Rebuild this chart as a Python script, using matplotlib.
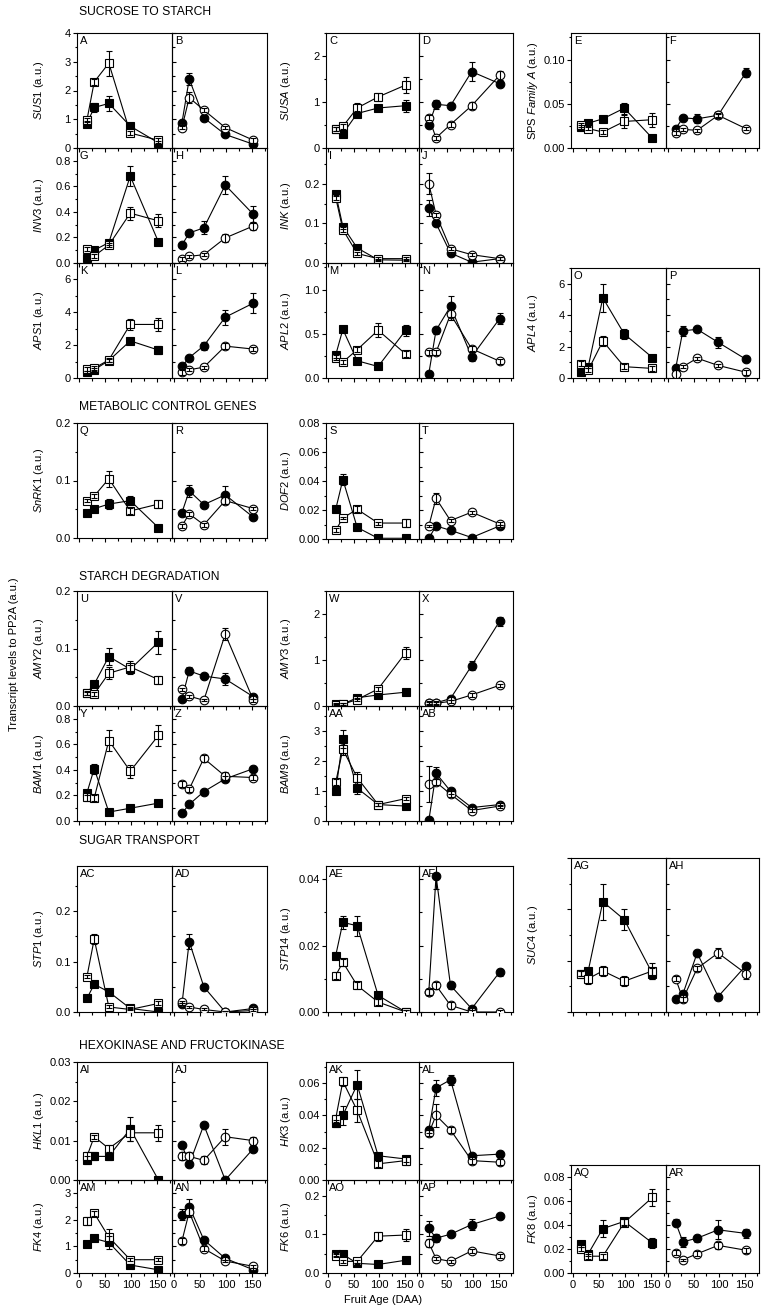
import matplotlib
matplotlib.use('Agg')
import matplotlib.pyplot as plt
from matplotlib.ticker import MultipleLocator, FormatStrFormatter

plt.rcParams['font.family'] = ['Liberation Sans', 'DejaVu Sans']
plt.rcParams['mathtext.fontset'] = 'custom'
plt.rcParams['mathtext.it'] = 'Liberation Sans:italic'
plt.rcParams['mathtext.rm'] = 'Liberation Sans'

W, H = 766, 1308

daa = [15, 29, 57, 98, 152]

# per gene: filled square, open square, filled circle, open circle
sus1 = [[0.85, 1.41, 1.55, 0.76, 0.18], [0.97, 2.3, 2.95, 0.52, 0.27],
        [0.87, 2.4, 1.05, 0.47, 0.13], [0.71, 1.75, 1.32, 0.71, 0.27]]
sus1_err = [[0.08, 0.15, 0.27, 0.06, 0.05], [0.08, 0.1, 0.44, 0.06, 0.08],
            [0.08, 0.22, 0.08, 0.06, 0.04], [0.06, 0.2, 0.06, 0.06, 0.08]]

susa = [[0.42, 0.31, 0.75, 0.87, 0.92], [0.42, 0.47, 0.87, 1.11, 1.37],
        [0.5, 0.95, 0.92, 1.66, 1.4], [0.66, 0.22, 0.51, 0.92, 1.58]]
susa_err = [[0.04, 0.04, 0.05, 0.05, 0.13], [0.04, 0.05, 0.1, 0.08, 0.17],
            [0.05, 0.1, 0.05, 0.2, 0.06], [0.05, 0.05, 0.05, 0.07, 0.1]]

sps = [[0.024, 0.028, 0.033, 0.045, 0.011], [0.026, 0.022, 0.018, 0.03, 0.032],
       [0.022, 0.034, 0.033, 0.037, 0.085], [0.017, 0.021, 0.02, 0.037, 0.022]]
sps_err = [[0.002, 0.003, 0.002, 0.006, 0.003], [0.002, 0.002, 0.002, 0.007, 0.008],
           [0.003, 0.003, 0.005, 0.002, 0.005], [0.002, 0.002, 0.002, 0.003, 0.002]]

inv3 = [[0.04, 0.1, 0.16, 0.68, 0.165], [0.107, 0.055, 0.14, 0.39, 0.33],
        [0.14, 0.235, 0.275, 0.61, 0.38], [0.034, 0.052, 0.065, 0.196, 0.29]]
inv3_err = [[0.01, 0.01, 0.02, 0.08, 0.01], [0.015, 0.015, 0.015, 0.05, 0.05],
            [0.01, 0.01, 0.05, 0.07, 0.07], [0.015, 0.01, 0.01, 0.03, 0.03]]

ink = [[0.175, 0.092, 0.038, 0.008, 0.007], [0.165, 0.084, 0.024, 0.011, 0.011],
       [0.139, 0.1, 0.025, 0.002, 0.011], [0.2, 0.122, 0.036, 0.021, 0.011]]
ink_err = [[0.006, 0.005, 0.004, 0.003, 0.003], [0.006, 0.006, 0.004, 0.004, 0.004],
           [0.02, 0.005, 0.003, 0.002, 0.003], [0.027, 0.005, 0.004, 0.004, 0.004]]

aps1 = [[0.34, 0.5, 1.06, 2.26, 1.7], [0.54, 0.6, 1.1, 3.26, 3.26],
        [0.7, 1.24, 1.96, 3.7, 4.56], [0.36, 0.5, 0.66, 1.94, 1.76]]
aps1_err = [[0.1, 0.1, 0.1, 0.15, 0.25], [0.1, 0.1, 0.1, 0.35, 0.4],
            [0.15, 0.1, 0.25, 0.45, 0.62], [0.15, 0.1, 0.1, 0.2, 0.1]]

apl2 = [[0.26, 0.55, 0.195, 0.13, 0.54], [0.23, 0.18, 0.32, 0.54, 0.27],
        [0.05, 0.54, 0.81, 0.24, 0.67], [0.29, 0.29, 0.72, 0.33, 0.19]]
apl2_err = [[0.03, 0.03, 0.03, 0.03, 0.06], [0.03, 0.02, 0.03, 0.08, 0.03],
            [0.02, 0.04, 0.12, 0.05, 0.06], [0.03, 0.03, 0.06, 0.03, 0.03]]

apl4 = [[0.37, 0.72, 5.1, 2.8, 1.3], [0.91, 0.5, 2.35, 0.72, 0.61],
        [0.63, 3.0, 3.1, 2.27, 1.2], [0.28, 0.72, 1.26, 0.8, 0.37]]
apl4_err = [[0.1, 0.1, 0.9, 0.3, 0.1], [0.15, 0.15, 0.3, 0.15, 0.15],
            [0.1, 0.3, 0.1, 0.35, 0.1], [0.25, 0.1, 0.1, 0.1, 0.15]]

snrk1 = [[0.044, 0.051, 0.059, 0.065, 0.018], [0.065, 0.073, 0.103, 0.047, 0.059],
         [0.044, 0.082, 0.058, 0.075, 0.036], [0.021, 0.042, 0.023, 0.065, 0.051]]
snrk1_err = [[0.003, 0.003, 0.008, 0.008, 0.002], [0.003, 0.003, 0.014, 0.005, 0.007],
             [0.003, 0.01, 0.003, 0.016, 0.004], [0.003, 0.003, 0.003, 0.006, 0.003]]

dof2 = [[0.0205, 0.041, 0.008, 0.0005, 0.0005], [0.006, 0.0145, 0.0205, 0.011, 0.011],
        [0.0005, 0.009, 0.006, 0.001, 0.009], [0.009, 0.028, 0.0127, 0.0185, 0.0104]]
dof2_err = [[0.001, 0.004, 0.001, 0.0005, 0.0005], [0.0015, 0.001, 0.002, 0.001, 0.003],
            [0.0005, 0.001, 0.001, 0.0005, 0.001], [0.001, 0.004, 0.001, 0.001, 0.001]]

amy2 = [[0.023, 0.038, 0.086, 0.064, 0.111], [0.022, 0.021, 0.057, 0.068, 0.046],
        [0.013, 0.061, 0.052, 0.047, 0.016], [0.029, 0.017, 0.01, 0.125, 0.01]]
amy2_err = [[0.003, 0.003, 0.015, 0.008, 0.02], [0.003, 0.003, 0.01, 0.01, 0.007],
            [0.002, 0.006, 0.003, 0.01, 0.003], [0.003, 0.003, 0.002, 0.01, 0.003]]

amy3 = [[0.04, 0.04, 0.18, 0.24, 0.3], [0.03, 0.04, 0.14, 0.37, 1.16],
        [0.07, 0.07, 0.16, 0.88, 1.84], [0.06, 0.06, 0.1, 0.24, 0.45]]
amy3_err = [[0.02, 0.02, 0.03, 0.03, 0.03], [0.02, 0.02, 0.03, 0.04, 0.13],
            [0.02, 0.02, 0.03, 0.1, 0.1], [0.04, 0.04, 0.04, 0.04, 0.03]]

bam1 = [[0.22, 0.41, 0.07, 0.1, 0.14], [0.19, 0.18, 0.63, 0.39, 0.67],
        [0.06, 0.13, 0.23, 0.33, 0.41], [0.29, 0.25, 0.49, 0.35, 0.34]]
bam1_err = [[0.02, 0.04, 0.01, 0.01, 0.01], [0.03, 0.02, 0.08, 0.05, 0.08],
            [0.01, 0.01, 0.01, 0.02, 0.02], [0.02, 0.02, 0.03, 0.03, 0.02]]

bam9 = [[1.0, 2.75, 1.1, 0.55, 0.5], [1.3, 2.4, 1.45, 0.55, 0.75],
        [0.02, 1.6, 1.0, 0.45, 0.55], [1.25, 1.3, 0.9, 0.35, 0.5]]
bam9_err = [[0.05, 0.3, 0.2, 0.05, 0.05], [0.1, 0.2, 0.2, 0.05, 0.05],
            [0.02, 0.2, 0.1, 0.05, 0.05], [0.6, 0.1, 0.1, 0.05, 0.05]]

stp1 = [[0.027, 0.055, 0.04, 0.007, 0.0], [0.07, 0.145, 0.01, 0.005, 0.017],
        [0.015, 0.14, 0.05, 0.0, 0.007], [0.02, 0.01, 0.005, 0.0, 0.003]]
stp1_err = [[0.002, 0.003, 0.004, 0.002, 0.001], [0.003, 0.01, 0.003, 0.002, 0.004],
            [0.002, 0.015, 0.003, 0.001, 0.002], [0.002, 0.002, 0.002, 0.001, 0.002]]

stp14 = [[0.017, 0.027, 0.026, 0.005, 0.0], [0.011, 0.015, 0.008, 0.003, 0.0],
         [0.006, 0.041, 0.008, 0.001, 0.012], [0.006, 0.008, 0.002, 0.0, 0.0]]
stp14_err = [[0.001, 0.002, 0.003, 0.001, 0.0005], [0.001, 0.001, 0.001, 0.001, 0.0005],
             [0.001, 0.004, 0.001, 0.0005, 0.001], [0.001, 0.001, 0.001, 0.0005, 0.0005]]

suc4 = [[0.15, 0.16, 0.43, 0.36, 0.15], [0.15, 0.13, 0.16, 0.12, 0.16],
        [0.05, 0.07, 0.23, 0.06, 0.18], [0.13, 0.05, 0.17, 0.23, 0.15]]
suc4_err = [[0.01, 0.01, 0.07, 0.04, 0.02], [0.01, 0.02, 0.02, 0.02, 0.03],
            [0.01, 0.01, 0.01, 0.01, 0.01], [0.01, 0.01, 0.01, 0.02, 0.02]]

hkl1 = [[0.005, 0.006, 0.006, 0.013, 0.0], [0.006, 0.011, 0.008, 0.012, 0.012],
        [0.009, 0.004, 0.014, 0.0, 0.008], [0.006, 0.006, 0.005, 0.011, 0.01]]
hkl1_err = [[0.001, 0.001, 0.001, 0.003, 0.0005], [0.001, 0.0005, 0.001, 0.002, 0.002],
            [0.0005, 0.0005, 0.0005, 0.0005, 0.0005], [0.001, 0.001, 0.001, 0.002, 0.001]]

hk3 = [[0.035, 0.04, 0.059, 0.015, 0.013], [0.038, 0.061, 0.043, 0.01, 0.012],
       [0.031, 0.057, 0.062, 0.015, 0.016], [0.029, 0.04, 0.031, 0.012, 0.011]]
hk3_err = [[0.002, 0.006, 0.009, 0.002, 0.002], [0.002, 0.003, 0.007, 0.002, 0.003],
           [0.002, 0.005, 0.003, 0.002, 0.002], [0.002, 0.007, 0.002, 0.002, 0.002]]

fk4 = [[1.1, 1.3, 1.15, 0.3, 0.12], [1.95, 2.25, 1.35, 0.5, 0.5],
       [2.2, 2.5, 1.25, 0.55, 0.12], [1.2, 2.3, 0.92, 0.45, 0.25]]
fk4_err = [[0.05, 0.1, 0.25, 0.05, 0.05], [0.15, 0.1, 0.3, 0.05, 0.05],
           [0.2, 0.3, 0.1, 0.05, 0.05], [0.1, 0.2, 0.1, 0.05, 0.05]]

fk6 = [[0.048, 0.048, 0.025, 0.022, 0.033], [0.045, 0.03, 0.03, 0.095, 0.098],
       [0.115, 0.09, 0.1, 0.125, 0.147], [0.078, 0.037, 0.03, 0.057, 0.044]]
fk6_err = [[0.003, 0.003, 0.002, 0.002, 0.002], [0.003, 0.003, 0.003, 0.012, 0.015],
           [0.02, 0.01, 0.008, 0.015, 0.008], [0.01, 0.004, 0.003, 0.005, 0.004]]

fk8 = [[0.024, 0.016, 0.037, 0.043, 0.025], [0.02, 0.014, 0.014, 0.042, 0.063],
       [0.042, 0.026, 0.029, 0.036, 0.033], [0.017, 0.011, 0.016, 0.023, 0.019]]
fk8_err = [[0.002, 0.002, 0.007, 0.003, 0.004], [0.002, 0.002, 0.002, 0.003, 0.007],
           [0.003, 0.004, 0.003, 0.008, 0.004], [0.002, 0.001, 0.002, 0.003, 0.002]]

# column pixel edges (left, divider, right) and ylabel x
cols = [(77, 172, 267, 39), (326, 419, 513, 286), (571, 666, 759, 533)]

# name, values, errors, letters, column, top px, bottom px, ymax, major, minor, fmt
panels = [
    (r'$\it{SUS1}$ (a.u.)', sus1, sus1_err, ('A', 'B'), 0, 33, 148, 4, 1, 0.5, '%d'),
    (r'$\it{SUSA}$ (a.u.)', susa, susa_err, ('C', 'D'), 1, 33, 148, 2.5, 1, 0.5, '%d'),
    (r'SPS $\it{Family\ A}$ (a.u.)', sps, sps_err, ('E', 'F'), 2, 33, 148, 0.13, 0.05, 0.025, '%.2f'),
    (r'$\it{INV3}$ (a.u.)', inv3, inv3_err, ('G', 'H'), 0, 148, 263, 0.9, 0.2, 0.1, '%.1f'),
    (r'$\it{INK}$ (a.u.)', ink, ink_err, ('I', 'J'), 1, 148, 263, 0.29, 0.1, 0.05, '%.1f'),
    (r'$\it{APS1}$ (a.u.)', aps1, aps1_err, ('K', 'L'), 0, 263, 378, 7, 2, 1, '%d'),
    (r'$\it{APL2}$ (a.u.)', apl2, apl2_err, ('M', 'N'), 1, 263, 378, 1.3, 0.5, 0.25, '%.1f'),
    (r'$\it{APL4}$ (a.u.)', apl4, apl4_err, ('O', 'P'), 2, 268, 378, 7, 2, 1, '%d'),
    (r'$\it{SnRK1}$ (a.u.)', snrk1, snrk1_err, ('Q', 'R'), 0, 423, 538, 0.2, 0.1, 0.05, '%.1f'),
    (r'$\it{DOF2}$ (a.u.)', dof2, dof2_err, ('S', 'T'), 1, 423, 539, 0.08, 0.02, 0.01, '%.2f'),
    (r'$\it{AMY2}$ (a.u.)', amy2, amy2_err, ('U', 'V'), 0, 591, 706, 0.2, 0.1, 0.05, '%.1f'),
    (r'$\it{AMY3}$ (a.u.)', amy3, amy3_err, ('W', 'X'), 1, 591, 706, 2.5, 1, 0.5, '%d'),
    (r'$\it{BAM1}$ (a.u.)', bam1, bam1_err, ('Y', 'Z'), 0, 706, 821, 0.9, 0.2, 0.1, '%.1f'),
    (r'$\it{BAM9}$ (a.u.)', bam9, bam9_err, ('AA', 'AB'), 1, 706, 821, 3.85, 1, 0.5, '%d'),
    (r'$\it{STP1}$ (a.u.)', stp1, stp1_err, ('AC', 'AD'), 0, 866, 1012, 0.29, 0.1, 0.05, '%.1f'),
    (r'$\it{STP14}$ (a.u.)', stp14, stp14_err, ('AE', 'AF'), 1, 866, 1012, 0.044, 0.02, 0.01, '%.2f'),
    (r'$\it{SUC4}$ (a.u.)', suc4, suc4_err, ('AG', 'AH'), 2, 858, 1012, 0.6, 0.2, 0.1, None),
    (r'$\it{HKL1}$ (a.u.)', hkl1, hkl1_err, ('AI', 'AJ'), 0, 1062, 1180, 0.03, 0.01, 0.005, '%.2f'),
    (r'$\it{HK3}$ (a.u.)', hk3, hk3_err, ('AK', 'AL'), 1, 1062, 1180, 0.073, 0.02, 0.01, '%.2f'),
    (r'$\it{FK4}$ (a.u.)', fk4, fk4_err, ('AM', 'AN'), 0, 1180, 1273, 3.5, 1, 0.5, '%d'),
    (r'$\it{FK6}$ (a.u.)', fk6, fk6_err, ('AO', 'AP'), 1, 1180, 1273, 0.24, 0.1, 0.05, '%.1f'),
    (r'$\it{FK8}$ (a.u.)', fk8, fk8_err, ('AQ', 'AR'), 2, 1165, 1273, 0.09, 0.02, 0.01, '%.2f'),
]

sections = [('SUCROSE TO STARCH', 12), ('METABOLIC CONTROL GENES', 407),
            ('STARCH DEGRADATION', 577), ('SUGAR TRANSPORT', 841),
            ('HEXOKINASE AND FRUCTOKINASE', 1046)]

fig = plt.figure(figsize=(W / 100, H / 100), dpi=100)
FS = 8


def draw_series(ax, y, e, marker, filled):
    mfc = 'black' if filled else 'white'
    ax.plot(daa, y, '-', color='black', lw=0.8, marker=marker, ms=5.5 if marker == 's' else 6.2,
            mfc=mfc, mec='black', mew=0.8, zorder=3)
    ax.errorbar(daa, y, yerr=e, fmt='none', ecolor='black', elinewidth=0.8,
                capsize=2.3, capthick=0.8, zorder=4)


for name, vals, errs, letters, c, top, bot, ymax, major, minor, fmt in panels:
    x0, xm, x1, xl = cols[c]
    last_row = bot > 1250
    for k, (a, b) in enumerate([(x0, xm), (xm, x1)]):
        ax = fig.add_axes([a / W, 1 - bot / H, (b - a) / W, (bot - top) / H])
        if k == 0:
            draw_series(ax, vals[0], errs[0], 's', True)
            draw_series(ax, vals[1], errs[1], 's', False)
        else:
            draw_series(ax, vals[2], errs[2], 'o', True)
            draw_series(ax, vals[3], errs[3], 'o', False)
        ax.set_xlim(-4, 178)
        ax.set_ylim(0, ymax)
        ax.xaxis.set_major_locator(MultipleLocator(50))
        ax.xaxis.set_minor_locator(MultipleLocator(25))
        ax.yaxis.set_major_locator(MultipleLocator(major))
        ax.yaxis.set_minor_locator(MultipleLocator(minor))
        ax.tick_params(axis='x', which='major', direction='out', length=3, width=0.8,
                       labelsize=FS, pad=2, labelbottom=last_row)
        ax.tick_params(axis='x', which='minor', direction='out', length=1.8, width=0.8)
        if k == 0:
            ax.tick_params(axis='y', which='major', direction='out', length=3, width=0.8,
                           labelsize=FS, pad=1.5, labelleft=fmt is not None)
            ax.tick_params(axis='y', which='minor', direction='out', length=1.8, width=0.8)
            if fmt:
                ax.yaxis.set_major_formatter(FormatStrFormatter(fmt))
        else:
            ax.tick_params(axis='y', which='major', direction='in', length=3, width=0.8,
                           labelleft=False)
            ax.tick_params(axis='y', which='minor', direction='in', length=1.8, width=0.8)
        for s in ax.spines.values():
            s.set_linewidth(0.8)
        ax.text(3 / (b - a), 1 - 3 / (bot - top), letters[k], transform=ax.transAxes,
                ha='left', va='top', fontsize=FS)
        ax.patch.set_alpha(0)
    fig.text(xl / W, 1 - (top + bot) / 2 / H, name, rotation=90, ha='center', va='center',
             fontsize=FS)

for title, y in sections:
    fig.text(79 / W, 1 - y / H, title, ha='left', va='center', fontsize=8.7)

fig.text(14 / W, 1 - 654 / H, 'Transcript levels to PP2A (a.u.)', rotation=90,
         ha='center', va='center', fontsize=FS)
fig.text(383 / W, 1 - 1300 / H, 'Fruit Age (DAA)', ha='center', va='center', fontsize=FS)

fig.savefig('out.png', dpi=100)
